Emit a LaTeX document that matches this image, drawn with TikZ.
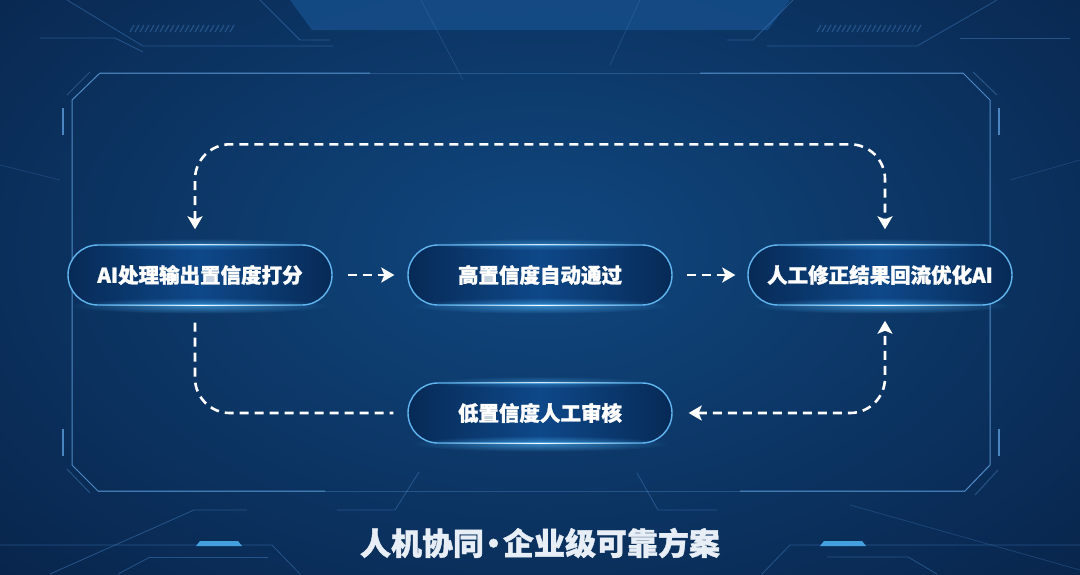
\documentclass[tikz,border=0pt]{standalone}
\usepackage{fontspec}
\newfontfamily\cjk{Noto Sans CJK SC}[BoldFeatures={FakeBold=1.3}]
\usetikzlibrary{arrows.meta,calc,fadings}
\definecolor{bgc}{HTML}{10477F}
\definecolor{bgm}{HTML}{092952}
\definecolor{bgo}{HTML}{030A17}
\definecolor{boxline}{HTML}{62B6F0}
\definecolor{boxmid}{HTML}{0E4889}
\definecolor{boxend}{HTML}{072A56}
\definecolor{glowc}{HTML}{4FB3F5}
\definecolor{framec}{HTML}{5C9BD8}
\definecolor{decoc}{HTML}{3C75B4}
\definecolor{titlec}{HTML}{E8EEF5}
\definecolor{trapc}{HTML}{17518F}
\pgfdeclareradialshading{bgshade}{\pgfpoint{0bp}{0bp}}{color(0bp)=(bgc); color(22bp)=(bgm); color(50bp)=(bgo)}
\tikzfading[name=glowfade, inner color=transparent!15, outer color=transparent!100]
\tikzfading[name=midfade, left color=transparent!100, right color=transparent!100, middle color=transparent!0]
\tikzset{
  box/.style={rounded corners=30pt, minimum width=264pt, minimum height=60pt, inner sep=0pt,
    draw=boxline, line width=1.4pt, left color=boxend, right color=boxend, middle color=boxmid,
    text=white, font=\cjk\bfseries\fontsize{20.5}{24}\selectfont},
  flow/.style={draw=white, line width=2.6pt, dash pattern=on 9pt off 6pt},
  tip/.style={-{Stealth[length=13pt,width=15pt,inset=3pt]}},
  tips/.style={{Stealth[length=13pt,width=15pt,inset=3pt]}-{Stealth[length=13pt,width=15pt,inset=3pt]}},
  frame/.style={draw=framec, line width=1pt},
  deco/.style={draw=decoc, line width=0.8pt, opacity=0.55},
  bar/.style={draw=framec, line width=2.5pt, opacity=0.8},
}
\begin{document}
\begin{tikzpicture}[x=1pt,y=-1pt]
\useasboundingbox (0,0) rectangle (1080,574);
\begin{scope}
\clip (0,0) rectangle (1080,574);
\fill[bgo] (0,0) rectangle (1080,574);
\shade[shading=bgshade] (540,250) ellipse (760 and 470);
% top trapezoid
\fill[trapc, opacity=0.75] (290,0) -- (312,30) -- (768,30) -- (790,0) -- cycle;
% decorative lines top
\draw[deco] (67,0) -- (143,46) -- (333,46);
\draw[deco] (40,38) -- (115,38) -- (143,52);
\draw[deco] (260,0) -- (300,40) -- (330,40);
\draw[deco] (793,0) -- (753,40) -- (727,40);
\draw[deco] (767,46) -- (917,46) -- (997,0);
\draw[deco] (960,38) -- (1070,38);
\draw[deco, opacity=0.35] (421,0) -- (463,80);
\draw[deco, opacity=0.35] (640,0) -- (610,65);
\draw[deco, opacity=0.3] (0,165) -- (60,180);
\draw[deco, opacity=0.3] (1080,160) -- (1010,180);
\foreach \x in {130,135,...,230} \draw[decoc, line width=1.2pt, opacity=0.5] (\x,32) -- (\x+4,25);
\foreach \x in {817,822,...,920} \draw[decoc, line width=1.2pt, opacity=0.5] (\x,32) -- (\x+4,25);
% decorative lines bottom
\draw[deco] (0,545) -- (272,545) -- (300,574);
\draw[deco] (150,557) -- (268,557);
\draw[deco] (150,557) -- (118,574);
\draw[deco] (50,574) -- (194,510) -- (247,510);
\draw[deco] (337,510) -- (395,510) -- (419,472);
\draw[deco] (1080,545) -- (790,545) -- (762,574);
\draw[deco] (827,557) -- (908,557) -- (937,574);
\draw[deco] (637,473) -- (658,510) -- (717,510);
\draw[deco, opacity=0.35] (850,505) -- (1080,570);
\fill[glowc, opacity=0.85] (196,546) -- (200,541) -- (238,541) -- (242,546) -- cycle;
\fill[glowc, opacity=0.85] (820,546) -- (824,541) -- (862,541) -- (866,546) -- cycle;
\end{scope}
% frame
\draw[frame, opacity=0.3] (100,73) -- (963,73);
\draw[frame, opacity=0.3] (98,491) -- (965,491);
\draw[frame, opacity=0.85] (370,73) -- (100,73) -- (72,100) -- (72,465) -- (98,491) -- (325,491);
\draw[frame, opacity=0.85] (700,73) -- (963,73) -- (990,100) -- (990,465) -- (965,491) -- (740,491);
\draw[frame, opacity=0.35] (67,95) -- (90,72);
\draw[frame, opacity=0.35] (973,72) -- (997,95);
\draw[frame, opacity=0.35] (67,469) -- (90,493);
\draw[frame, opacity=0.35] (975,495) -- (998,470);
\draw[bar] (63,108) -- (63,135);
\draw[bar] (63,429) -- (63,456);
\draw[bar] (999,108) -- (999,135);
\draw[bar] (999,429) -- (999,456);
% nodes
\node[box] (A) at (200,275) {AI处理输出置信度打分};
\node[box] (B) at (540,275) {高置信度自动通过};
\node[box] (C) at (880,275) {人工修正结果回流优化AI};
\node[box] (D) at (540,413) {低置信度人工审核};
\foreach \n in {A,B,C,D} {
  \fill[glowc, path fading=glowfade, opacity=0.75] (\n.south) ellipse (130 and 8);
  \fill[glowc, path fading=glowfade, opacity=0.5] (\n.north) ellipse (110 and 6);
  \fill[white, path fading=midfade] ($(\n.south west)+(30,-1)$) rectangle ($(\n.south east)+(-30,0.6)$);
  \fill[white, path fading=midfade, opacity=0.8] ($(\n.north west)+(40,-0.6)$) rectangle ($(\n.north east)+(-40,0.8)$);
}
% connectors
\draw[flow, tip] ($(A.east)+(15,0)$) -- ($(B.west)+(-13,0)$);
\draw[flow, tip] ($(B.east)+(14,0)$) -- ($(C.west)+(-12,0)$);
\draw[flow, tips, rounded corners=35pt] ($(A.north)+(-5,-15)$) |- ($(C.north)+(5,-100)$) -- ($(C.north)+(5,-15)$);
\draw[flow, rounded corners=35pt] ($(A.south)+(-5,17)$) |- ($(D.west)+(-14,0)$);
\draw[flow, tips, rounded corners=35pt] ($(D.east)+(16,0)$) -| ($(C.south)+(5,15)$);
% title
\node[font=\cjk\bfseries\fontsize{31}{36}\selectfont, text=titlec] (T) at (540,543) {人机协同\kern-6pt·\kern-6pt企业级可靠方案};
\end{tikzpicture}
\end{document}
